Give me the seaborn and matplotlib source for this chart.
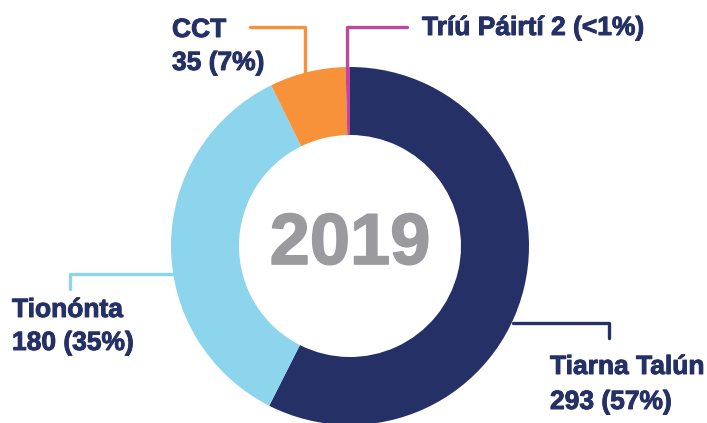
import matplotlib
matplotlib.use("Agg")
import matplotlib.pyplot as plt
import matplotlib.patheffects as pe
import seaborn as sns

# data
labels = ["Tiarna Talún", "Tionónta", "CCT", "Tríú Páirtí 2"]
values = [293, 180, 35, 2]
colors = ["#253166", "#8dd5ec", "#f7923a", "#c0479a"]
year = "2019"

W, H = 707, 423
NAVY = "#253166"


def pct_text(v, total):
    p = v / total * 100
    return "<1%" if p < 1 else f"{p:.0f}%"


def Y(y):
    # pixel rows from the top -> data y
    return H - y


def main():
    sns.set_theme(style="white")
    plt.rcParams["font.family"] = ["Liberation Sans", "DejaVu Sans"]

    fig = plt.figure(figsize=(W / 100, H / 100), dpi=100)
    ax = fig.add_axes([0, 0, 1, 1])

    ax.pie(values, colors=colors, startangle=90, counterclock=False,
           center=(350, Y(246)), radius=179,
           wedgeprops=dict(width=68, linewidth=0, zorder=2))

    ax.text(350, Y(245), year, ha="center", va="center", fontsize=52,
            fontweight="bold", color="#9b9a9f",
            path_effects=[pe.withStroke(linewidth=1.2, foreground="#9b9a9f")])

    total = sum(values)
    lw = 2.4

    # leader lines
    ax.plot([305, 305, 250], [Y(73), Y(27), Y(27)], color=colors[2], lw=lw, zorder=1)
    ax.plot([347, 347, 407], [Y(68), Y(27), Y(27)], color=colors[3], lw=lw, zorder=1)
    ax.plot([173, 70, 70], [Y(274), Y(274), Y(289)], color=colors[1], lw=lw, zorder=1)
    ax.plot([513, 609, 609], [Y(323), Y(323), Y(338)], color=colors[0], lw=lw, zorder=1)

    kw = dict(fontsize=19, fontweight="bold", color=NAVY, ha="left", va="center",
              path_effects=[pe.withStroke(linewidth=0.7, foreground=NAVY)])

    # CCT
    ax.text(172, Y(30), labels[2], **kw)
    ax.text(172, Y(63), f"{values[2]} ({pct_text(values[2], total)})", **kw)
    # Triu Pairti 2
    ax.text(422, Y(28), f"{labels[3]} ({pct_text(values[3], total)})", **kw)
    # Tiononta
    ax.text(12, Y(310), labels[1], **kw)
    ax.text(12, Y(343), f"{values[1]} ({pct_text(values[1], total)})", **kw)
    # Tiarna Talun
    ax.text(550, Y(367), labels[0], **kw)
    ax.text(550, Y(402), f"{values[0]} ({pct_text(values[0], total)})", **kw)

    ax.set_xlim(0, W)
    ax.set_ylim(0, H)
    ax.set_aspect("equal")
    ax.axis("off")

    fig.savefig("out.png", dpi=100)
    plt.close(fig)


if __name__ == "__main__":
    main()
